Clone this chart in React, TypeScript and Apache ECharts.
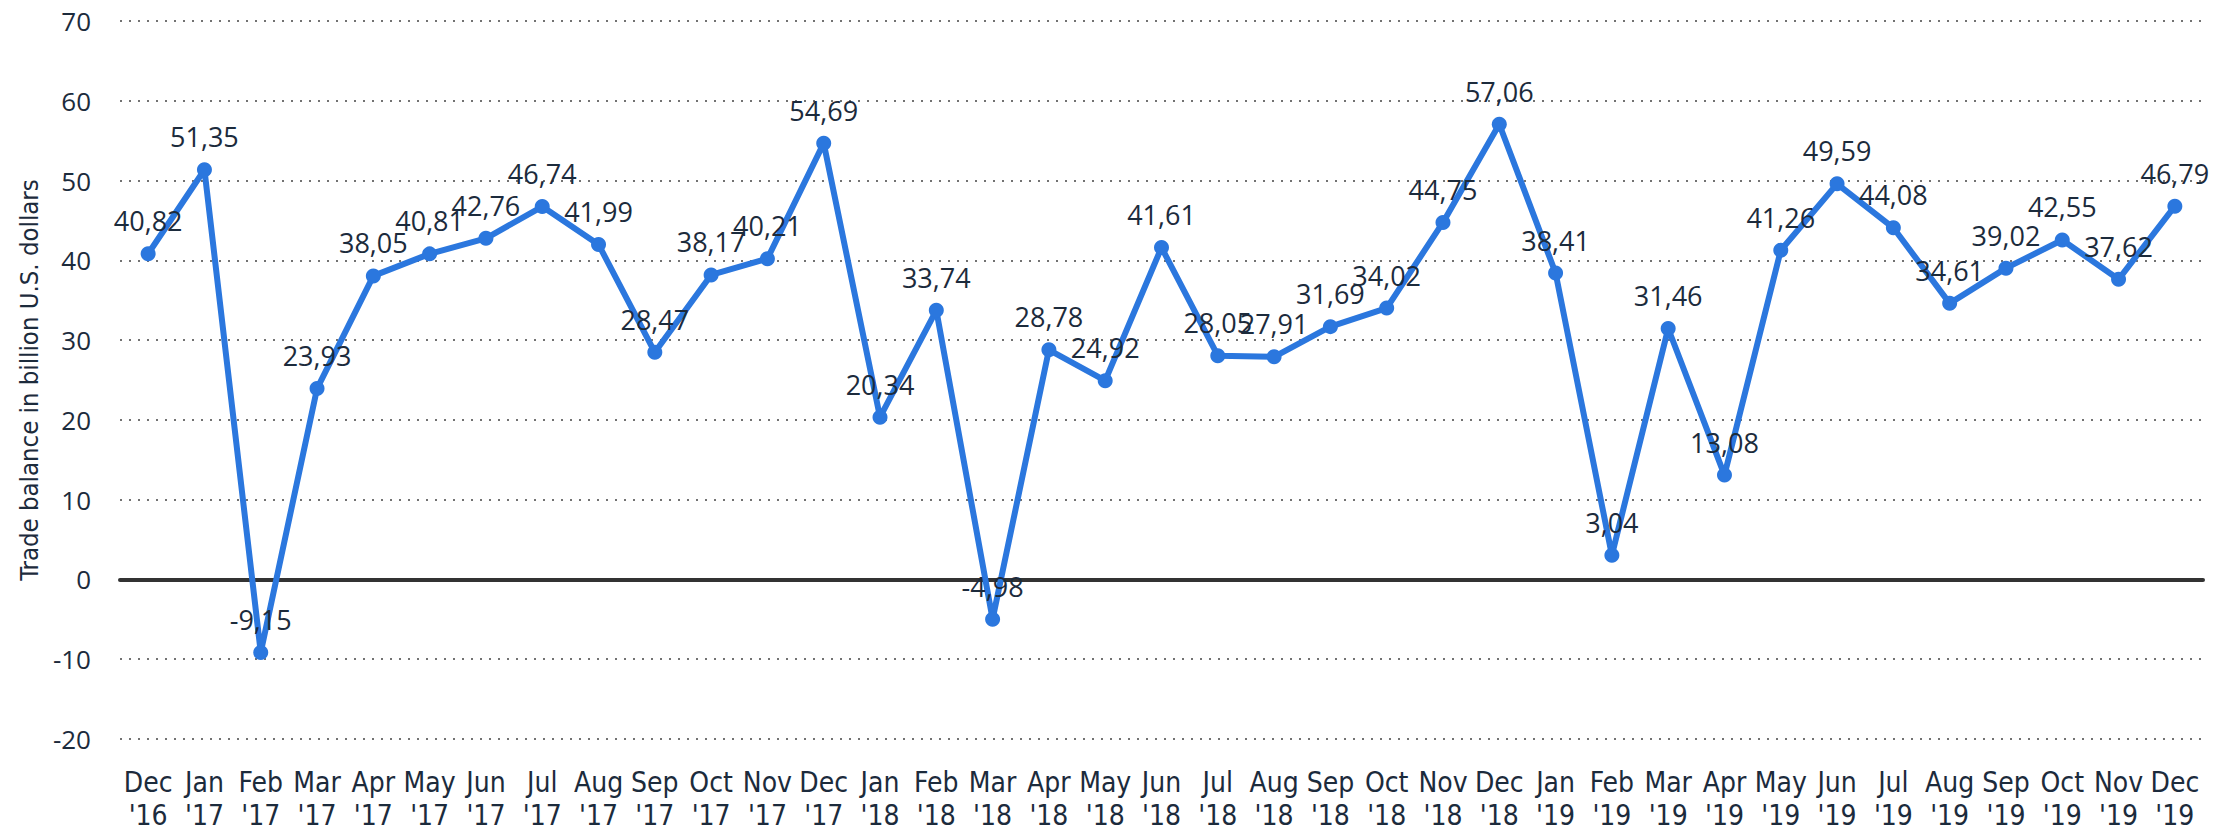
import React, { useEffect, useRef } from "react";
import * as echarts from "echarts";

const months = [
  "Dec\n'16", "Jan\n'17", "Feb\n'17", "Mar\n'17", "Apr\n'17", "May\n'17", "Jun\n'17", "Jul\n'17",
  "Aug\n'17", "Sep\n'17", "Oct\n'17", "Nov\n'17", "Dec\n'17", "Jan\n'18", "Feb\n'18", "Mar\n'18",
  "Apr\n'18", "May\n'18", "Jun\n'18", "Jul\n'18", "Aug\n'18", "Sep\n'18", "Oct\n'18", "Nov\n'18",
  "Dec\n'18", "Jan\n'19", "Feb\n'19", "Mar\n'19", "Apr\n'19", "May\n'19", "Jun\n'19", "Jul\n'19",
  "Aug\n'19", "Sep\n'19", "Oct\n'19", "Nov\n'19", "Dec\n'19",
];

const tradeBalance = [
  40.82, 51.35, -9.15, 23.93, 38.05, 40.81, 42.76, 46.74,
  41.99, 28.47, 38.17, 40.21, 54.69, 20.34, 33.74, -4.98,
  28.78, 24.92, 41.61, 28.05, 27.91, 31.69, 34.02, 44.75,
  57.06, 38.41, 3.04, 31.46, 13.08, 41.26, 49.59, 44.08,
  34.61, 39.02, 42.55, 37.62, 46.79,
];

const yMin = -20;
const yMax = 70;
const yInterval = 10;
const yAxisTitle = "Trade balance in billion U.S. dollars";

const textColor = "#1c2b3c";
const lineColor = "#2b77de";
const narrow = "'Liberation Sans Narrow', 'DejaVu Sans Condensed', 'Roboto Condensed', 'Open Sans', sans-serif";

export default function App() {
  const ref = useRef<HTMLDivElement>(null);
  useEffect(() => {
    document.body.style.margin = "0";
    const chart = echarts.init(ref.current!, undefined, { renderer: "svg" });
    chart.setOption({
      animation: false,
      grid: { left: 120, right: 31, top: 21, bottom: 88, containLabel: false },
      xAxis: {
        type: "category",
        data: months,
        boundaryGap: true,
        axisLine: { show: true, onZero: true, lineStyle: { color: "#333333", width: 4 } },
        axisTick: { show: false },
        axisLabel: {
          interval: 0,
          color: textColor,
          fontFamily: narrow,
          fontSize: 28,
          lineHeight: 33,
          margin: 27,
        },
      },
      yAxis: {
        type: "value",
        min: yMin,
        max: yMax,
        interval: yInterval,
        name: yAxisTitle,
        nameLocation: "middle",
        nameGap: 78,
        nameTextStyle: { color: textColor, fontFamily: narrow, fontSize: 25.5 },
        axisLine: { show: false },
        axisTick: { show: false },
        axisLabel: { color: textColor, fontFamily: "'Open Sans', sans-serif", fontSize: 26, margin: 29 },
        splitLine: { show: true, lineStyle: { color: "#444444", width: 1.5, type: [2, 7] } },
      },
      series: [
        {
          type: "line",
          data: tradeBalance,
          symbol: "circle",
          symbolSize: 15,
          itemStyle: { color: lineColor },
          lineStyle: { color: lineColor, width: 6 },
          label: {
            show: true,
            position: "top",
            distance: 12,
            color: textColor,
            fontFamily: "'Open Sans', sans-serif",
            fontSize: 27,
            formatter: (p: any) => Number(p.value).toFixed(2).replace(".", ","),
          },
          z: 3,
        },
      ],
    });
    return () => chart.dispose();
  }, []);
  return <div ref={ref} style={{ width: 2234, height: 832 }} />;
}
